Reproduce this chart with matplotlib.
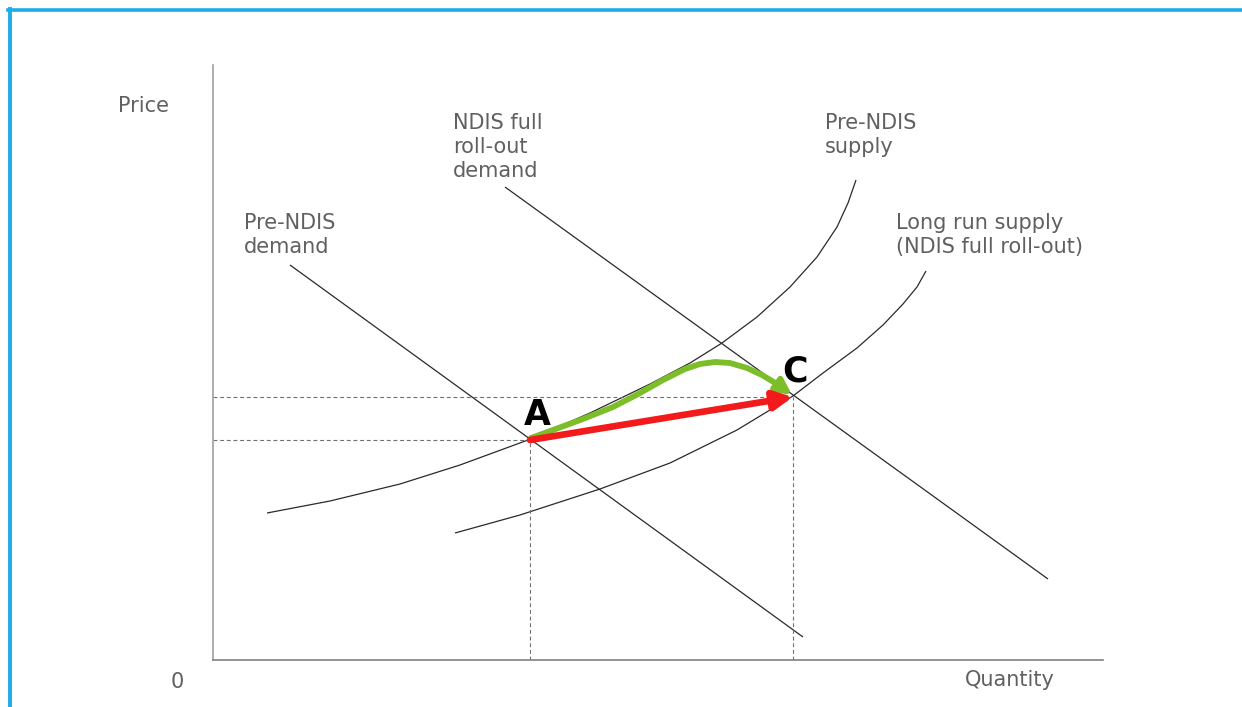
import matplotlib
matplotlib.use("Agg")
import matplotlib.pyplot as plt
from matplotlib.patches import FancyArrowPatch
from matplotlib.path import Path
from matplotlib.lines import Line2D

# ---------------- data (Quantity, Price) ----------------
pre_demand_q = [7.7, 59.0]
pre_demand_p = [39.5, 2.3]

full_demand_q = [29.2, 83.5]
full_demand_p = [47.3, 8.1]

pre_supply_q = [5.4, 11.7, 18.7, 24.7, 31.5, 37.7, 43.7, 47.7, 50.9, 54.4, 57.7, 60.4, 62.4, 63.5, 64.3]
pre_supply_p = [14.7, 15.9, 17.6, 19.5, 22.0, 24.7, 27.6, 29.7, 31.7, 34.3, 37.3, 40.3, 43.3, 45.7, 48.0]

lr_supply_q = [24.2, 30.7, 38.7, 45.7, 52.4, 58.0, 61.0, 64.4, 67.0, 69.0, 70.4, 71.3]
lr_supply_p = [12.7, 14.5, 17.1, 19.7, 23.0, 26.4, 28.7, 31.2, 33.5, 35.6, 37.3, 38.9]

point_A = (31.7, 22.0)
point_C = (58.0, 26.3)

green_q = [31.8, 34.0, 37.0, 40.0, 42.7, 45.0, 47.2, 48.7, 50.2, 51.7, 53.4, 54.9, 56.4, 57.9]
green_p = [22.2, 23.0, 24.1, 25.3, 26.7, 28.0, 29.1, 29.6, 29.8, 29.7, 29.2, 28.5, 27.6, 26.5]

labels = {
    "Pre-NDIS\ndemand": (3.1, 44.7),
    "NDIS full\nroll-out\ndemand": (24.0, 54.7),
    "Pre-NDIS\nsupply": (61.2, 54.7),
    "Long run supply\n(NDIS full roll-out)": (68.3, 44.7),
}

# ---------------- figure ----------------
W, H = 1242, 707
fig = plt.figure(figsize=(W / 100, H / 100), dpi=100)
fig.patch.set_facecolor("white")

ax = fig.add_axes([213 / W, 47 / H, 890 / W, 595 / H])
ax.set_xlim(0, 89)
ax.set_ylim(0, 59.5)
for s in ["top", "right"]:
    ax.spines[s].set_visible(False)
ax.spines["left"].set_color("#a0a0a0")
ax.spines["bottom"].set_color("#808080")
for s in ["left", "bottom"]:
    ax.spines[s].set_linewidth(1.2)
ax.set_xticks([])
ax.set_yticks([])
ax.patch.set_alpha(0)

line_kw = dict(color="#2a2a2a", lw=0.9, solid_capstyle="butt", solid_joinstyle="round")
ax.plot(pre_demand_q, pre_demand_p, **line_kw)
ax.plot(full_demand_q, full_demand_p, **line_kw)
ax.plot(pre_supply_q, pre_supply_p, **line_kw)
ax.plot(lr_supply_q, lr_supply_p, **line_kw)

dash_kw = dict(color="#707070", lw=0.8, dashes=(3.5, 2.5))
for (q, p) in (point_A, point_C):
    ax.plot([0, q], [p, p], **dash_kw)
    ax.plot([q, q], [0, p], **dash_kw)

# green path arrow
gpath = Path(list(zip(green_q, green_p)))
garrow = FancyArrowPatch(path=gpath, arrowstyle="-|>,head_length=9,head_width=4.5",
                         color="#7cbd2a", lw=4.2, shrinkA=0, shrinkB=0,
                         transform=ax.transData, zorder=4, joinstyle="round",
                         capstyle="round")
ax.add_patch(garrow)

# red arrow A -> C
rarrow = FancyArrowPatch(posA=point_A, posB=point_C,
                         arrowstyle="-|>,head_length=11,head_width=5.5",
                         color="#f21a1a", lw=4.8, shrinkA=0, shrinkB=0,
                         transform=ax.transData, zorder=5)
ax.add_patch(rarrow)

# point labels
ax.text(32.4, 24.5, "A", fontsize=25, fontweight="bold", color="black",
        ha="center", va="center", zorder=6)
ax.text(58.2, 28.9, "C", fontsize=25, fontweight="bold", color="black",
        ha="center", va="center", zorder=6)

txt_kw = dict(fontsize=15, color="#606060", family="DejaVu Sans", clip_on=False)
for t, (q, p) in labels.items():
    ax.text(q, p, t, ha="left", va="top", linespacing=1.25, **txt_kw)

ax.text(-9.5, 56.4, "Price", ha="left", va="top", **txt_kw)
ax.text(-3.6, -1.2, "0", ha="center", va="top", **txt_kw)
ax.text(75.2, -1.0, "Quantity", ha="left", va="top", **txt_kw)

# frame border (top and left, blue)
bc = "#1cade9"
fig.add_artist(Line2D([8 / W, 1.0], [1 - 10 / H, 1 - 10 / H], color=bc, lw=2.6,
                      transform=fig.transFigure))
fig.add_artist(Line2D([9.5 / W, 9.5 / W], [0, 1 - 8.5 / H], color=bc, lw=2.8,
                      transform=fig.transFigure))

fig.savefig("out.png", dpi=100)
